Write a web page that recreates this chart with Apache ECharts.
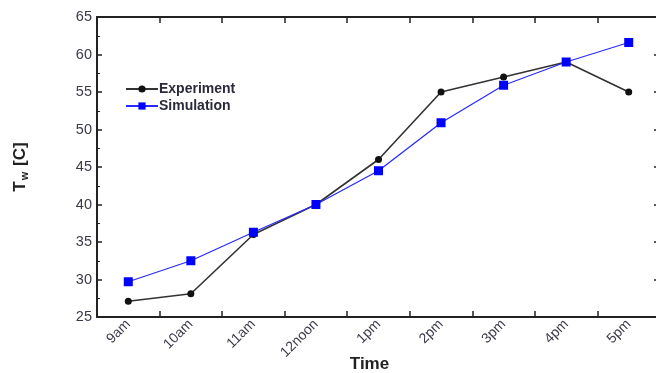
<!DOCTYPE html>
<html><head><meta charset="utf-8">
<script src="https://cdn.jsdelivr.net/npm/echarts@6/dist/echarts.min.js"></script>
<style>html,body{margin:0;padding:0;background:#fff}#c{width:656px;height:373px}</style>
</head><body><div id="c"></div>
<script>
const categories = ['9am','10am','11am','12noon','1pm','2pm','3pm','4pm','5pm'];
const experiment = [27.1, 28.1, 36.0, 40.0, 46.0, 55.0, 57.0, 59.0, 55.0];
const simulation = [29.7, 32.5, 36.3, 40.0, 44.5, 50.9, 55.9, 59.0, 61.6];
const yTicks = [25, 30, 35, 40, 45, 50, 55, 60, 65];

const chart = echarts.init(document.getElementById('c'), null, {renderer:'canvas'});
const font = 'Liberation Sans, Arial, sans-serif';
const axisLine = {show:true, lineStyle:{color:'#222', width:2}};
chart.setOption({
  animation:false,
  backgroundColor:'#fff',
  grid:{left:97, right:-4, top:17, bottom:56, containLabel:false, outerBoundsMode:'none'},
  legend:{
    orient:'vertical', left:120, top:77, itemGap:3, itemWidth:32, itemHeight:9,
    textStyle:{fontFamily:font, fontSize:14, fontWeight:'bold', color:'#2a2a3a', padding:[0,0,0,-4]},
    data:['Experiment','Simulation']
  },
  xAxis:[{
    type:'category', data:categories, boundaryGap:true, position:'bottom',
    axisLine:axisLine,
    axisTick:{show:true, inside:true, length:6, lineStyle:{color:'#222', width:1.5}},
    axisLabel:{rotate:45, fontFamily:font, fontSize:14, color:'#3a3a4a', margin:5, interval:0},
    name:'Time', nameLocation:'middle', nameGap:39, nameMoveOverlap:false,
    nameTextStyle:{fontFamily:font, fontSize:17, fontWeight:'bold', color:'#222', padding:[0,18,0,0]},
    splitLine:{show:false}
  },{
    type:'category', data:categories, boundaryGap:true, position:'top',
    axisLine:axisLine,
    axisTick:{show:true, inside:true, length:6, lineStyle:{color:'#222', width:1.5}},
    axisLabel:{show:false}, splitLine:{show:false}
  }],
  yAxis:[{
    type:'value', min:25, max:65, interval:5, position:'left',
    axisLine:axisLine,
    axisTick:{show:true, inside:true, length:5, lineStyle:{color:'#222', width:1.5}},
    minorTick:{show:true, splitNumber:2, length:3, lineStyle:{color:'#222', width:1}},
    axisLabel:{fontFamily:font, fontSize:14.5, color:'#3a3a4a', margin:5,
      formatter:v => yTicks.includes(v) ? String(v) : ''},
    splitLine:{show:false},
    name:'{b|T}{s|w}{b| [C]}', nameLocation:'middle', nameGap:67, nameRotate:90, nameMoveOverlap:false,
    nameTextStyle:{rich:{
      b:{fontFamily:font, fontSize:17, fontWeight:'bold', color:'#222'},
      s:{fontFamily:font, fontSize:11, fontWeight:'bold', color:'#222', verticalAlign:'bottom', padding:[8,1,0,1]}
    }}
  },{
    type:'value', min:25, max:65, interval:5, position:'right',
    axisLine:axisLine,
    axisTick:{show:true, inside:true, length:6, lineStyle:{color:'#222', width:1.5}},
    axisLabel:{show:false}, splitLine:{show:false}
  }],
  series:[{
    name:'Experiment', type:'line', data:experiment,
    symbol:'circle', symbolSize:7,
    itemStyle:{color:'#111'},
    lineStyle:{color:'#333', width:1.6}
  },{
    name:'Simulation', type:'line', data:simulation,
    symbol:'rect', symbolSize:9,
    itemStyle:{color:'#0000ff'},
    lineStyle:{color:'#2a2aff', width:1.3}
  }]
});
</script></body></html>
